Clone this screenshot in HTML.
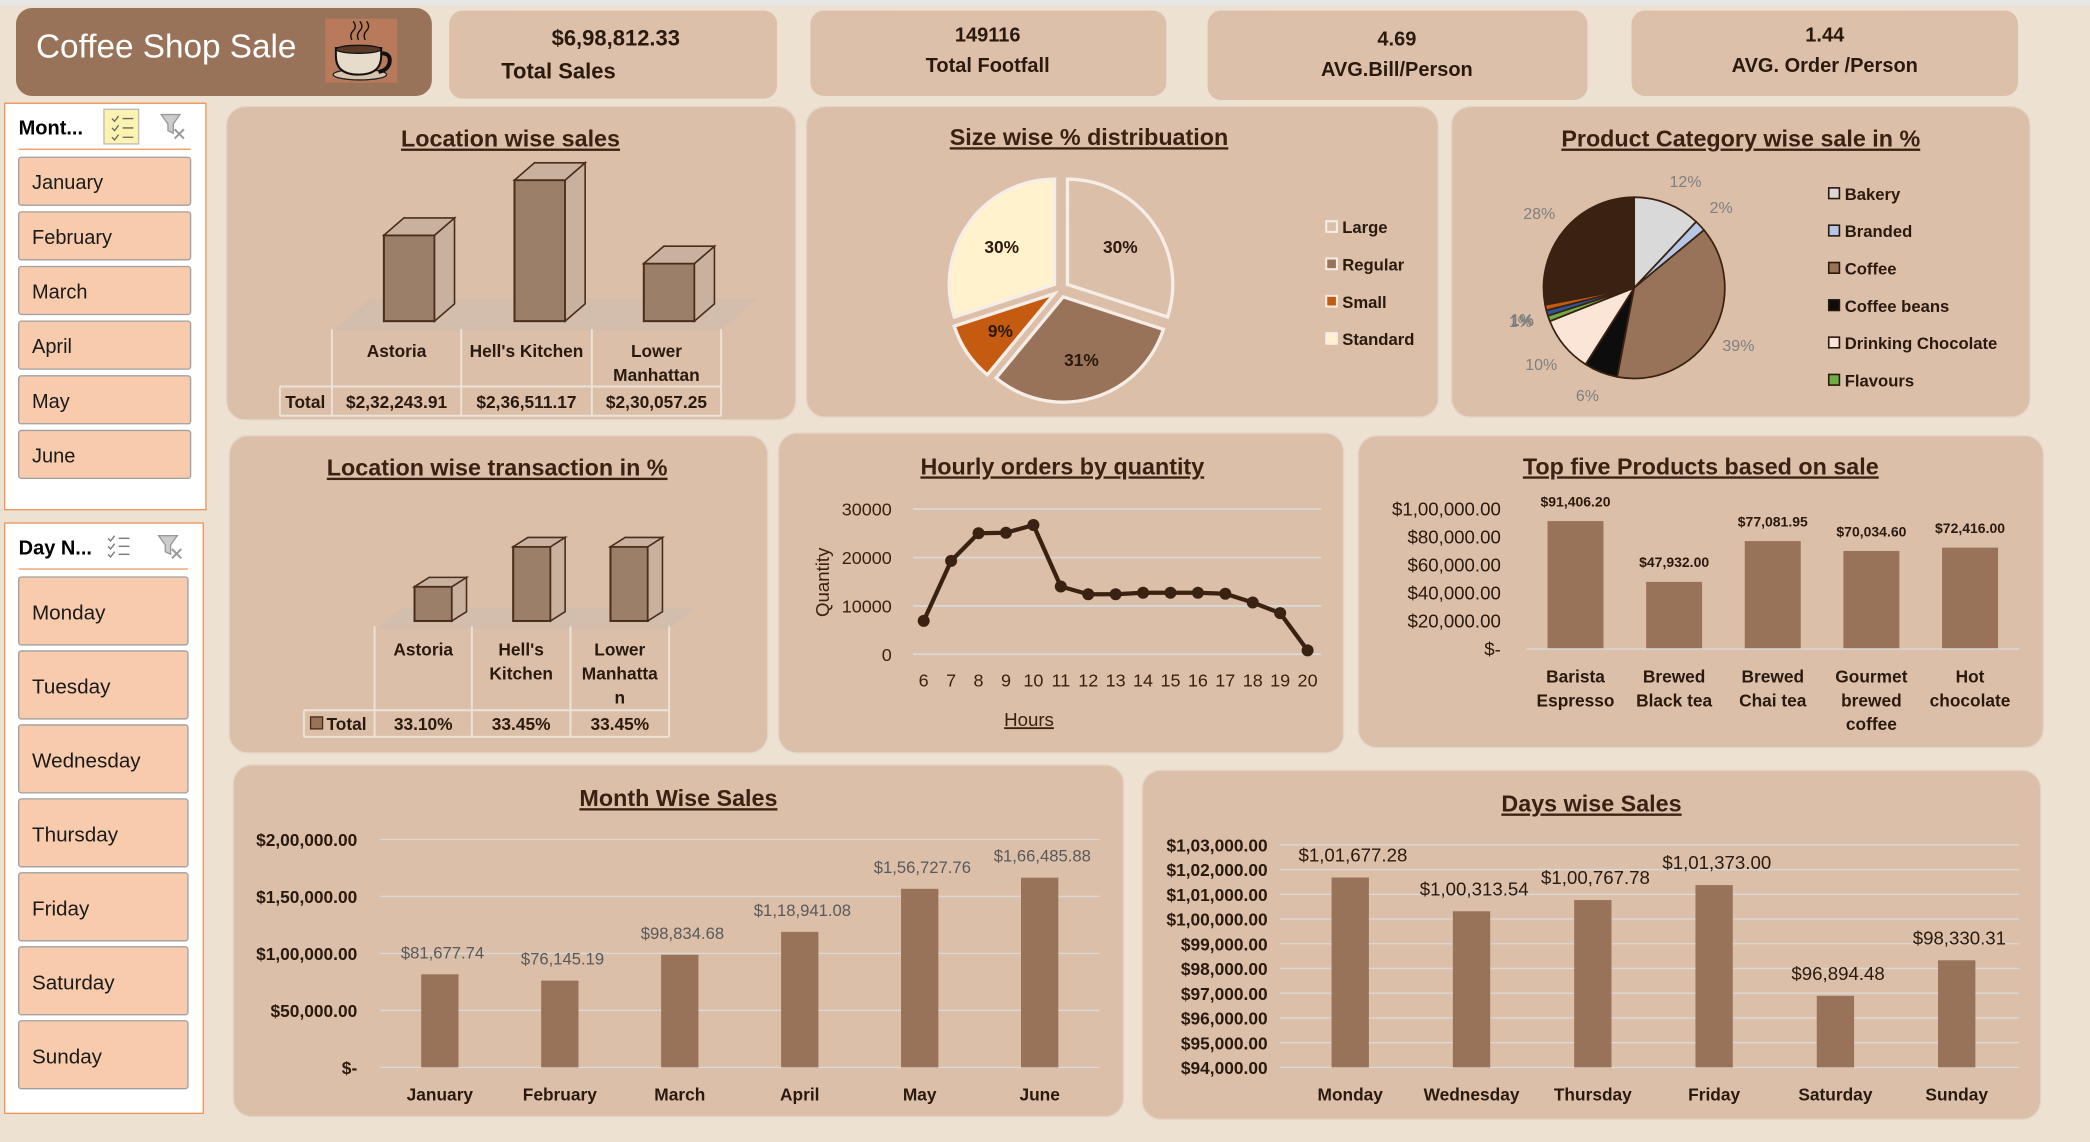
<!DOCTYPE html>
<html><head><meta charset="utf-8"><title>Coffee Shop Sale Dashboard</title>
<style>
html,body{margin:0;padding:0;background:#ede1d1;overflow:hidden}
svg{display:block;font-family:"Liberation Sans",sans-serif}
.t{font-weight:bold;fill:#3a2212;text-decoration:underline}
.k{font-weight:bold;fill:#2a1a0e;text-anchor:middle}
.si{font-size:15px;fill:#1a1a1a}
.lg{font-size:12.5px;font-weight:bold;fill:#2a1a0e}
</style></head><body>
<svg id="dash" width="2090" height="1142" viewBox="0 0 1568 857" preserveAspectRatio="none" xmlns="http://www.w3.org/2000/svg">
<rect x="0" y="0" width="1568" height="857" fill="#ede1d1"/>
<rect x="0" y="0" width="1568" height="4" fill="#e6e6e6"/>

<!-- title -->
<g>
<rect x="12" y="6" width="312" height="66" rx="12" fill="#987359"/>
<text x="27" y="43" font-size="25" fill="#fff">Coffee Shop Sale</text>
<g>
<rect x="244" y="14" width="54" height="48" fill="#b87a5a"/>
<ellipse cx="270" cy="56" rx="20" ry="4" fill="#d8c4ae" stroke="#222" stroke-width="1"/>
<path d="M252 36 h34 v6 q0 14 -17 14 q-17 0 -17 -14 z" fill="#e7dccb" stroke="#111" stroke-width="1.5"/>
<ellipse cx="269" cy="37" rx="17" ry="3" fill="#5a3a26" stroke="#111"/>
<path d="M286 40 q8 0 6 8 q-2 5 -8 6" fill="none" stroke="#111" stroke-width="3"/>
<path d="M264 30 q-2 -4 1 -7 q3 -3 0 -7 M269 30 q-2 -4 1 -7 q3 -3 0 -7 M274 30 q-2 -4 1 -7 q3 -3 0 -7" fill="none" stroke="#111" stroke-width="1"/>
</g>
</g>

<!-- KPIs -->
<g><rect x="337" y="8" width="246" height="66" rx="10" fill="#dcc0aa"/>
<text x="462" y="34" font-size="16.5" class="k">$6,98,812.33</text><text x="419" y="59" font-size="16.5" class="k">Total Sales</text></g>
<g><rect x="608" y="8" width="267" height="64" rx="10" fill="#dcc0aa"/>
<text x="741" y="31" font-size="15" class="k">149116</text><text x="741" y="54" font-size="15" class="k">Total Footfall</text></g>
<g><rect x="906" y="8" width="285" height="67" rx="10" fill="#dcc0aa"/>
<text x="1048" y="34" font-size="15" class="k">4.69</text><text x="1048" y="57" font-size="15" class="k">AVG.Bill/Person</text></g>
<g><rect x="1224" y="8" width="290" height="64" rx="10" fill="#dcc0aa"/>
<text x="1369" y="31" font-size="15" class="k">1.44</text><text x="1369" y="54" font-size="15" class="k">AVG. Order /Person</text></g>

<!-- Month slicer -->
<g>
<rect x="3.5" y="77.5" width="151" height="305" fill="#fff" stroke="#f0935a" stroke-width="1"/>
<text x="14" y="101" font-size="15" font-weight="bold" fill="#000">Mont...</text>
<g><rect x="78" y="82" width="26" height="26" fill="#fdf3b0" stroke="#bbb"/><path d="M84 89 l2 2 3-4 M84 96 l2 2 3-4 M84 103 l2 2 3-4 M92 89 h8 M92 96 h8 M92 103 h8" stroke="#666" fill="none"/></g>
<g><path d="M121 86 h14 l-5 7 v7 l-4 -2 v-5 z" fill="#ccc" stroke="#999"/><path d="M131 97 l7 7 M138 97 l-7 7" stroke="#999" stroke-width="1.5"/></g>
<line x1="14" y1="112" x2="143" y2="112" stroke="#f0935a" stroke-width="1"/>
</g>
<!-- Day slicer -->
<g>
<rect x="3.5" y="392.5" width="149" height="443" fill="#fff" stroke="#f0935a" stroke-width="1"/>
<text x="14" y="416" font-size="15" font-weight="bold" fill="#000">Day N...</text>
<path d="M81 404 l2 2 3-4 M81 410 l2 2 3-4 M81 416 l2 2 3-4 M89 404 h8 M89 410 h8 M89 416 h8" stroke="#777" fill="none"/>
<g><path d="M119 402 h14 l-5 7 v7 l-4 -2 v-5 z" fill="#ccc" stroke="#999"/><path d="M129 412 l7 7 M136 412 l-7 7" stroke="#999" stroke-width="1.5"/></g>
<line x1="14" y1="427" x2="141" y2="427" stroke="#f0935a" stroke-width="1"/>
</g>
<g id="slicers"></g>

<!-- panels -->
<rect x="170" y="80" width="427" height="235" rx="14" fill="#dbbfa9" stroke="#e3d5c8"/>
<rect x="605" y="80" width="474" height="233" rx="14" fill="#dbbfa9" stroke="#e3d5c8"/>
<rect x="1089" y="80" width="434" height="233" rx="14" fill="#dbbfa9" stroke="#e3d5c8"/>
<rect x="172" y="327" width="404" height="238" rx="14" fill="#dbbfa9" stroke="#e3d5c8"/>
<rect x="584" y="325" width="424" height="240" rx="14" fill="#dbbfa9" stroke="#e3d5c8"/>
<rect x="1019" y="327" width="514" height="234" rx="14" fill="#dbbfa9" stroke="#e3d5c8"/>
<rect x="175" y="574" width="668" height="264" rx="14" fill="#dbbfa9" stroke="#e3d5c8"/>
<rect x="857" y="578" width="674" height="262" rx="14" fill="#dbbfa9" stroke="#e3d5c8"/>

<text x="383" y="110" font-size="17.5" class="t" text-anchor="middle">Location wise sales</text>
<text x="817" y="109" font-size="17.5" class="t" text-anchor="middle">Size wise % distribuation</text>
<text x="1306" y="110" font-size="17.5" class="t" text-anchor="middle">Product Category wise sale in %</text>
<text x="373" y="357" font-size="17.5" class="t" text-anchor="middle">Location wise transaction in %</text>
<text x="797" y="356" font-size="17.5" class="t" text-anchor="middle">Hourly orders by quantity</text>
<text x="1276" y="356" font-size="17.5" class="t" text-anchor="middle">Top five Products based on sale</text>
<text x="509" y="605" font-size="17.5" class="t" text-anchor="middle">Month Wise Sales</text>
<text x="1194" y="609" font-size="17.5" class="t" text-anchor="middle">Days wise Sales</text>

<text transform="translate(622,437) rotate(-90)" font-size="14" fill="#3a2212" text-anchor="middle">Quantity</text>
<text x="772" y="545" font-size="14" fill="#3a2212" text-anchor="middle" text-decoration="underline">Hours</text>

<g id="charts"></g>
</svg>
<script>
const monthSlicerItems=['January','February','March','April','May','June'];
const daySlicerItems=['Monday','Tuesday','Wednesday','Thursday','Friday','Saturday','Sunday'];
const locNames=['Astoria',"Hell's Kitchen",'Lower Manhattan'];
const locSales=[232243.91,236511.17,230057.25];
const sizeNames=['Large','Regular','Small','Standard'];
const sizePct=[30,31,9,30];
const catNames=['Bakery','Branded','Coffee','Coffee beans','Drinking Chocolate','Flavours','Loose Tea','Packaged Chocolate','Tea'];
const catPct=[12,2,39,6,10,1,1,1,28];
const txnPct=[33.10,33.45,33.45];
const hours=[6,7,8,9,10,11,12,13,14,15,16,17,18,19,20];
const hourQty=[6900,19300,25000,25100,26700,14000,12400,12400,12700,12700,12700,12500,10700,8500,800];
const hourTicks=[0,10000,20000,30000];
const topNames=[['Barista','Espresso'],['Brewed','Black tea'],['Brewed','Chai tea'],['Gourmet','brewed','coffee'],['Hot','chocolate']];
const topSales=[91406.20,47932.00,77081.95,70034.60,72416.00];
const topTicks=[0,20000,40000,60000,80000,100000];
const months=['January','February','March','April','May','June'];
const monthSales=[81677.74,76145.19,98834.68,118941.08,156727.76,166485.88];
const monthTicks=[0,50000,100000,150000,200000];
const days=['Monday','Wednesday','Thursday','Friday','Saturday','Sunday'];
const daySales=[101677.28,100313.54,100767.78,101373.00,96894.48,98330.31];
const dayTicks=[94000,95000,96000,97000,98000,99000,100000,101000,102000,103000];

const NS='http://www.w3.org/2000/svg';
const root=document.getElementById('charts');
function mk(tag,attrs,parent){const e=document.createElementNS(NS,tag);for(const k in attrs)e.setAttribute(k,attrs[k]);(parent||root).appendChild(e);return e;}
function txt(x,y,s,attrs,parent){const e=mk('text',Object.assign({x:x,y:y},attrs),parent);e.textContent=s;return e;}
function inr(v,dec){if(v===0)return '$-';const f=v.toFixed(dec===undefined?2:dec).split('.');let i=f[0];let out=i.slice(-3);i=i.slice(0,-3);while(i.length>2){out=i.slice(-2)+','+out;i=i.slice(0,-2);}if(i.length)out=i+','+out;return '$'+out+(f[1]?'.'+f[1]:'');}

// slicers
const sl=document.getElementById('slicers');
monthSlicerItems.forEach((m,i)=>{
  const y=118+i*41;
  const g=mk('g',{},sl);
  
  
  mk('rect',{x:14,y:y,width:129,height:36,rx:2,fill:'#f7cbac',stroke:'#a0a0a0'},g);
  txt(24,y+24,m,{'font-size':15,fill:'#1a1a1a'},g);
});
daySlicerItems.forEach((d,i)=>{
  const y=433+i*55.5;
  const g=mk('g',{},sl);
  
  
  mk('rect',{x:14,y:y,width:127,height:51,rx:2,fill:'#f7cbac',stroke:'#a0a0a0'},g);
  txt(24,y+32,d,{'font-size':15.5,fill:'#1a1a1a'},g);
});

// 3D bar
function bar3d(x,top,w,bottom,dx,dy,g){
  mk('polygon',{points:`${x},${bottom} ${x+dx},${bottom+dy} ${x+dx},${top+dy} ${x},${top}`,fill:'none',stroke:'#4a2e1c','stroke-width':1,opacity:0.6},g);
  mk('rect',{x:x,y:top,width:w,height:bottom-top,fill:'#9c7f69',stroke:'#4a2e1c','stroke-width':1.5},g);
  mk('polygon',{points:`${x+w},${top} ${x+w+dx},${top+dy} ${x+w+dx},${bottom+dy} ${x+w},${bottom}`,fill:'#c9b19f',stroke:'#4a2e1c','stroke-width':1.2},g);
  mk('polygon',{points:`${x},${top} ${x+dx},${top+dy} ${x+w+dx},${top+dy} ${x+w},${top}`,fill:'#c9b19f',stroke:'#4a2e1c','stroke-width':1.2},g);
}

// Location wise sales
(function(){
  const base=225600, k=0.0097, bottom=241, cx=[307,405,502];
  mk('polygon',{points:'250,248 541,248 568,224 278,224',fill:'#d3bdac'});
  locSales.forEach((v,i)=>{
    const g=mk('g',{});
    
    
    bar3d(cx[i]-19,bottom-(v-base)*k,38,bottom,15,-13,g);
  });
  const cols=[249,346,444,541];
  const tg=mk('g',{stroke:'#ece2d8','stroke-width':1.5});
  
  
  cols.forEach(x=>mk('line',{x1:x,y1:247,x2:x,y2:312},tg));
  mk('line',{x1:210,y1:290,x2:541,y2:290},tg);mk('line',{x1:210,y1:312,x2:541,y2:312},tg);mk('line',{x1:210,y1:290,x2:210,y2:312},tg);
  txt(229,306,'Total',{'font-size':13,'font-weight':'bold',fill:'#2a1a0e','text-anchor':'middle'});
  locNames.forEach((n,i)=>{
    const c=(cols[i]+cols[i+1])/2;
    if(n==='Lower Manhattan'){txt(c,268,'Lower',{'font-size':13,'font-weight':'bold',fill:'#2a1a0e','text-anchor':'middle'});txt(c,286,'Manhattan',{'font-size':13,'font-weight':'bold',fill:'#2a1a0e','text-anchor':'middle'});}
    else txt(c,268,n,{'font-size':13,'font-weight':'bold',fill:'#2a1a0e','text-anchor':'middle'});
    txt(c,306,inr(locSales[i]),{'font-size':13,'font-weight':'bold',fill:'#2a1a0e','text-anchor':'middle'});
  });
})();

// pie helper
function slicePath(cx,cy,r,a0,a1){
  const p=a=>[cx+r*Math.sin(a),cy-r*Math.cos(a)];
  const s=p(a0),e=p(a1),lg=(a1-a0)>Math.PI?1:0;
  return `M${cx},${cy} L${s[0]},${s[1]} A${r},${r} 0 ${lg} 1 ${e[0]},${e[1]} Z`;
}
// Size pie
(function(){
  const cx=796,cy=217,r=79,cols=['#dbbfa9','#987359','#c55a11','#fff2cc'];
  const tot=sizePct.reduce((a,b)=>a+b,0);let a=0;
  sizePct.forEach((v,i)=>{
    const a1=a+v/tot*2*Math.PI, m=(a+a1)/2, ox=6*Math.sin(m), oy=-6*Math.cos(m);
    const p=mk('path',{d:slicePath(cx+ox,cy+oy,r,a,a1),fill:cols[i],stroke:'#f6eee6','stroke-width':2.5});
    
    
    const lr=r*0.62;
    txt(cx+ox+lr*Math.sin(m),cy+oy-lr*Math.cos(m)+5,v+'%',{'font-size':13,'font-weight':'bold',fill:'#2a1a0e','text-anchor':'middle'});
    const lg=mk('g',{});
    
    
    mk('rect',{x:995,y:170+i*28-4,width:8,height:8,fill:cols[i],stroke:'#f6eee6','stroke-width':1.5},lg);
    txt(1007,179+i*28-4,sizeNames[i],{'font-size':12.5,'font-weight':'bold',fill:'#2a1a0e'},lg);
    a=a1;
  });
})();
// Product category pie
(function(){
  const cx=1226,cy=216,r=68,cols=['#d9d9d9','#b4c7e7','#987359','#0d0d0d','#fbe5d6','#70ad47','#2f5597','#c55a11','#3a2212'];
  const tot=catPct.reduce((a,b)=>a+b,0);let a=0;
  const lpos=[[1270,144],[1291,161],[1305,261],[1189,298],[1156,278],[1143,239],[1144,243],[1143,251],[1153,166]];
  catPct.forEach((v,i)=>{
    const a1=a+v/tot*2*Math.PI;
    const p=mk('path',{d:slicePath(cx,cy,r,a,a1),fill:cols[i],stroke:'#3a2212','stroke-width':1.3});
    
    
    const m=(a+a1)/2, lr=r+22;
    let lx=cx+lr*Math.sin(m), ly=cy-lr*Math.cos(m)+4;
    if(i<lpos.length){lx=(lx+lpos[i][0])/2;ly=(ly+lpos[i][1])/2;}
    txt(lx,ly,v+'%',{'font-size':12,fill:'#7f7f7f','text-anchor':'middle'});
    a=a1;
  });
  catNames.slice(0,6).forEach((n,i)=>{
    const lg=mk('g',{});
    
    
    mk('rect',{x:1372,y:141+i*28,width:8,height:8,fill:cols[i],stroke:'#2a1a0e','stroke-width':1.2},lg);
    txt(1384,150+i*28,n,{'font-size':12.5,'font-weight':'bold',fill:'#2a1a0e'},lg);
  });
})();

// Location transaction %
(function(){
  const base=32.80,k=85.7,bottom=466,cx=[325,399,472];
  mk('polygon',{points:'282,472 502,472 522,456 302,456',fill:'#d3bdac'});
  txnPct.forEach((v,i)=>{
    const g=mk('g',{});
    
    
    bar3d(cx[i]-14,bottom-(v-base)*k,28,bottom,11,-7,g);
  });
  const cols=[281,354,428,502];
  const tg=mk('g',{stroke:'#ece2d8','stroke-width':1.5});
  
  
  cols.forEach(x=>mk('line',{x1:x,y1:470,x2:x,y2:553},tg));
  mk('line',{x1:228,y1:533,x2:502,y2:533},tg);mk('line',{x1:228,y1:553,x2:502,y2:553},tg);mk('line',{x1:228,y1:533,x2:228,y2:553},tg);
  mk('rect',{x:233,y:538,width:9,height:9,fill:'#987359',stroke:'#4a2e1c'});
  txt(260,548,'Total',{'font-size':13,'font-weight':'bold',fill:'#2a1a0e','text-anchor':'middle'});
  const lines=[['Astoria'],["Hell's",'Kitchen'],['Lower','Manhatta','n']];
  lines.forEach((ls,i)=>{
    const c=(cols[i]+cols[i+1])/2;
    ls.forEach((s,j)=>txt(c,492+j*18,s,{'font-size':13,'font-weight':'bold',fill:'#2a1a0e','text-anchor':'middle'}));
    txt(c,548,txnPct[i].toFixed(2)+'%',{'font-size':13,'font-weight':'bold',fill:'#2a1a0e','text-anchor':'middle'});
  });
})();

// Hourly line
(function(){
  const x0=693,dx=(981-693)/(hours.length-1),y0=491,k=(491-382)/30000;
  const X=i=>x0+i*dx, Y=v=>y0-v*k;
  hourTicks.forEach(t=>{
    const l=mk('line',{x1:685,y1:Y(t),x2:991,y2:Y(t),stroke:'#d9d9d9','stroke-width':1.3});
    
    
    txt(669,Y(t)+5,String(t),{'font-size':13.5,fill:'#3a2212','text-anchor':'end'});
  });
  hours.forEach((h,i)=>txt(X(i),515,String(h),{'font-size':13.5,fill:'#3a2212','text-anchor':'middle'}));
  const pl=mk('polyline',{points:hourQty.map((v,i)=>X(i)+','+Y(v)).join(' '),fill:'none',stroke:'#3a2212','stroke-width':3.2,'stroke-linejoin':'round'});
  
  
  hourQty.forEach((v,i)=>{
    const c=mk('circle',{cx:X(i),cy:Y(v),r:4.5,fill:'#3a2212'});
    
    
  });
})();

// Top five
(function(){
  const y0=487,k=105/100000,cx=[1182,1256,1330,1404,1478],w=42;
  topTicks.forEach(t=>txt(1126,y0-t*k+5,inr(t,2),{'font-size':14,fill:'#2a1a0e','text-anchor':'end'}));
  topSales.forEach((v,i)=>{
    const b=mk('rect',{x:cx[i]-w/2,y:y0-v*k,width:w,height:v*k,fill:'#987359'});
    
    
    txt(cx[i],y0-v*k-11,inr(v),{'font-size':10.5,'font-weight':'bold',fill:'#2a1a0e','text-anchor':'middle'});
    topNames[i].forEach((s,j)=>txt(cx[i],512+j*18,s,{'font-size':13,'font-weight':'bold',fill:'#2a1a0e','text-anchor':'middle'}));
  });
  mk('line',{x1:1145,y1:y0,x2:1515,y2:y0,stroke:'#d9d9d9','stroke-width':1});
})();

// Month wise
(function(){
  const y0=801,k=171/200000,cx=[330,420,510,600,690,780],w=28;
  monthTicks.forEach(t=>{
    const l=mk('line',{x1:285,y1:y0-t*k,x2:825,y2:y0-t*k,stroke:'#d9d9d9','stroke-width':1});
    
    
    txt(268,y0-t*k+5,inr(t,2),{'font-size':13,'font-weight':'bold',fill:'#2a1a0e','text-anchor':'end'});
  });
  monthSales.forEach((v,i)=>{
    const b=mk('rect',{x:cx[i]-w/2,y:y0-v*k,width:w,height:v*k,fill:'#987359'});
    
    
    txt(cx[i]+2,y0-v*k-12,inr(v),{'font-size':12.5,fill:'#595959','text-anchor':'middle'});
    txt(cx[i],826,months[i],{'font-size':13,'font-weight':'bold',fill:'#2a1a0e','text-anchor':'middle'});
  });
})();

// Days wise
(function(){
  const y0=801,base=94000,k=(801-634)/9000,cx=[1013,1104,1195,1286,1377,1468],w=28;
  dayTicks.forEach(t=>{
    const l=mk('line',{x1:960,y1:y0-(t-base)*k,x2:1515,y2:y0-(t-base)*k,stroke:'#d9d9d9','stroke-width':1});
    
    
    txt(951,y0-(t-base)*k+5,inr(t,2),{'font-size':13,'font-weight':'bold',fill:'#2a1a0e','text-anchor':'end'});
  });
  daySales.forEach((v,i)=>{
    const h=(v-base)*k;
    const b=mk('rect',{x:cx[i]-w/2,y:y0-h,width:w,height:h,fill:'#987359'});
    
    
    txt(cx[i]+2,y0-h-12,inr(v),{'font-size':14,fill:'#2a1a0e','text-anchor':'middle'});
    txt(cx[i],826,days[i],{'font-size':13,'font-weight':'bold',fill:'#2a1a0e','text-anchor':'middle'});
  });
})();
</script>
</body></html>
